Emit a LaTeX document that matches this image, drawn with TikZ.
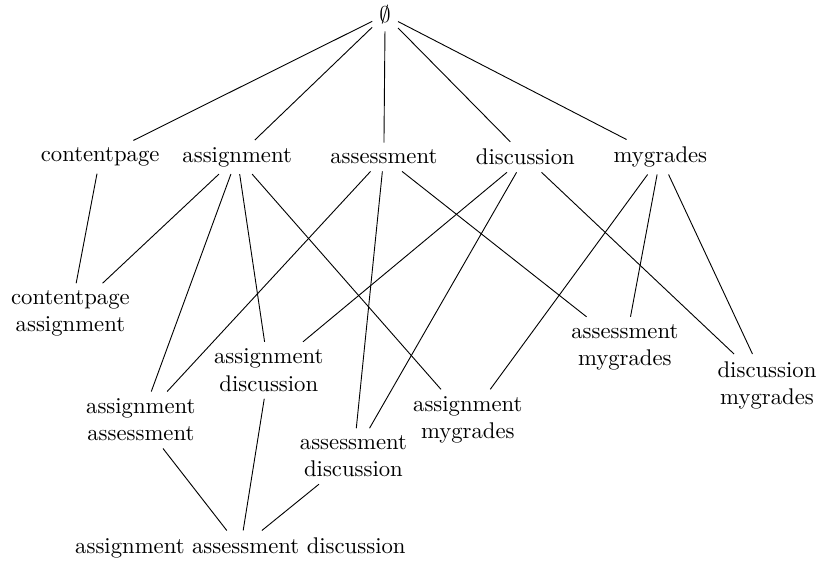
\documentclass[tikz,border=0pt]{standalone}
\usepackage{amsmath,amssymb}
\usepackage{tikz}
\usetikzlibrary{positioning}
\tikzset{
  lset/.style={align=center, inner sep=3pt},
  ledge/.style={draw=black, line width=0.4pt}
}
\begin{document}
\begin{tikzpicture}[font=\normalsize]
  \useasboundingbox (0,0) rectangle (12.69,-8.68);
  % top
  \node[lset] (empty) at (5.96,-0.23) {$\emptyset$};
  % singletons
  \node[lset] (cp) at (1.55,-2.43) {contentpage};
  \node[lset] (asg) at (3.67,-2.43) {assignment};
  \node[lset] (ass) at (5.94,-2.43) {assessment};
  \node[lset] (dis) at (8.13,-2.43) {discussion};
  \node[lset] (myg) at (10.22,-2.43) {mygrades};
  % pairs
  \node[lset] (cpasg) at (1.09,-4.85) {contentpage\\assignment};
  \node[lset] (asgdis) at (4.16,-5.73) {assignment\\discussion};
  \node[lset] (asgass) at (2.18,-6.50) {assignment\\assessment};
  \node[lset] (assdis) at (5.47,-7.06) {assessment\\discussion};
  \node[lset] (asgmyg) at (7.24,-6.50) {assignment\\mygrades};
  \node[lset] (assmyg) at (9.67,-5.37) {assessment\\mygrades};
  \node[lset] (dismyg) at (11.87,-5.96) {discussion\\mygrades};
  % triple
  \node[lset] (asgassdis) at (3.72,-8.48) {assignment assessment discussion};

  \foreach \s in {cp,asg,ass,dis,myg}
    \draw[ledge] (empty) -- (\s);

  \draw[ledge] (cp) -- (cpasg);
  \foreach \p in {cpasg,asgass,asgdis,asgmyg}
    \draw[ledge] (asg) -- (\p);
  \foreach \p in {asgass,assdis,assmyg}
    \draw[ledge] (ass) -- (\p);
  \foreach \p in {asgdis,assdis,dismyg}
    \draw[ledge] (dis) -- (\p);
  \foreach \p in {asgmyg,assmyg,dismyg}
    \draw[ledge] (myg) -- (\p);

  \foreach \p in {asgass,asgdis,assdis}
    \draw[ledge] (\p) -- (asgassdis);
\end{tikzpicture}
\end{document}
